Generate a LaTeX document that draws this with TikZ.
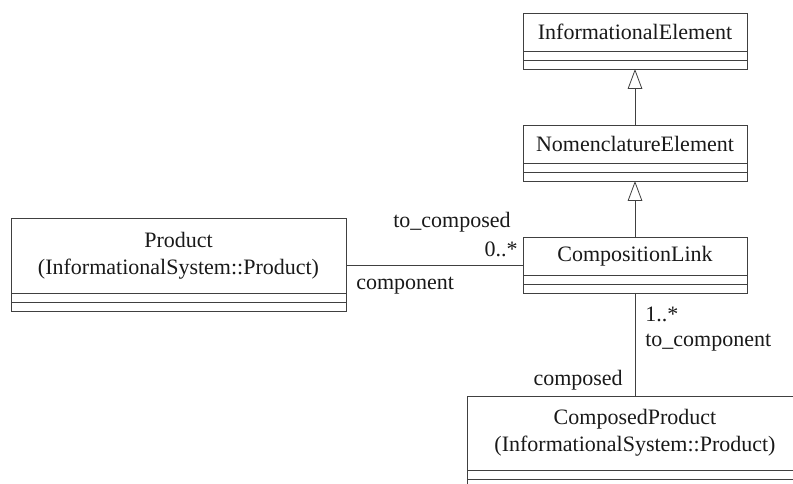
\documentclass[tikz,border=0pt]{standalone}
\usepackage{fontspec}
\setmainfont{Liberation Serif}
\usetikzlibrary{positioning}
\usetikzlibrary{fit,arrows.meta}

\tikzset{
  umlname/.style={draw=black!75, line width=0.6pt, minimum width=168pt, minimum height=28.5pt, inner sep=0pt, outer sep=0pt, align=center},
  umlcomp/.style={draw=black!75, line width=0.6pt, minimum width=168pt, minimum height=6.75pt, inner sep=0pt, outer sep=0pt},
  umlclass/.style={inner sep=0pt, outer sep=0pt},
  inherit/.style={draw=black!75, line width=0.6pt, -{Triangle[open, length=15pt, width=11pt]}},
  assoc/.style={draw=black!75, line width=0.6pt},
}

\begin{document}
\begin{tikzpicture}[x=0.75pt, y=-0.75pt, every node/.style={font=\fontsize{16.5}{20}\selectfont, text=black!90}]
\clip (0,0) rectangle (793,484);

% Informational element
\node[umlname] (info_n) at (635,32) {InformationalElement};
\node[umlcomp, below=0pt of info_n] (info_a) {};
\node[umlcomp, below=0pt of info_a] (info_o) {};
\node[umlclass, fit=(info_n)(info_o)] (info) {};

% Nomenclature element
\node[umlname] (nom_n) at (635,144) {NomenclatureElement};
\node[umlcomp, below=0pt of nom_n] (nom_a) {};
\node[umlcomp, below=0pt of nom_a] (nom_o) {};
\node[umlclass, fit=(nom_n)(nom_o)] (nom) {};

% Composition link
\node[umlname] (link_n) at (635,256) {CompositionLink};
\node[umlcomp, below=0pt of link_n] (link_a) {};
\node[umlcomp, below=0pt of link_a] (link_o) {};
\node[umlclass, fit=(link_n)(link_o)] (link) {};

% Product
\node[umlname, minimum width=251.25pt, minimum height=56.25pt] (prod_n) at (178.5,256) {Product\\(InformationalSystem::Product)};
\node[umlcomp, minimum width=251.25pt, below=0pt of prod_n] (prod_a) {};
\node[umlcomp, minimum width=251.25pt, below=0pt of prod_a] (prod_o) {};
\node[umlclass, fit=(prod_n)(prod_o)] (prod) {};

% Composed product
\node[umlname, minimum width=252pt, minimum height=55.5pt] (cprod_n) at (635,433) {ComposedProduct\\(InformationalSystem::Product)};
\node[umlcomp, minimum width=252pt, below=0pt of cprod_n] (cprod_a) {};
\node[umlcomp, minimum width=252pt, below=0pt of cprod_a] (cprod_o) {};
\node[umlclass, fit=(cprod_n)(cprod_o)] (cprod) {};

% Generalisations
\draw[inherit] (nom.north) -- (info.south);
\draw[inherit] (link.north) -- (nom.south);

% Associations
\draw[assoc] (prod.east) -- (link.west);
\draw[assoc] (link.south) -- (cprod.north);

% Role names and multiplicities
\node (lbl_tocomposed) at (452,222) {to\_composed};
\node[anchor=east, inner sep=0pt] (lbl_many0) at (518,249) {0..*};
\node[anchor=west, inner sep=0pt] (lbl_component) at (356,286) {component};
\node[anchor=west, inner sep=0pt] (lbl_many1) at (645,314) {1..*};
\node[anchor=west, inner sep=0pt] (lbl_tocomponent) at (645,343) {to\_component};
\node[anchor=east, inner sep=0pt] (lbl_composed) at (623,380) {composed};

\end{tikzpicture}
\end{document}
